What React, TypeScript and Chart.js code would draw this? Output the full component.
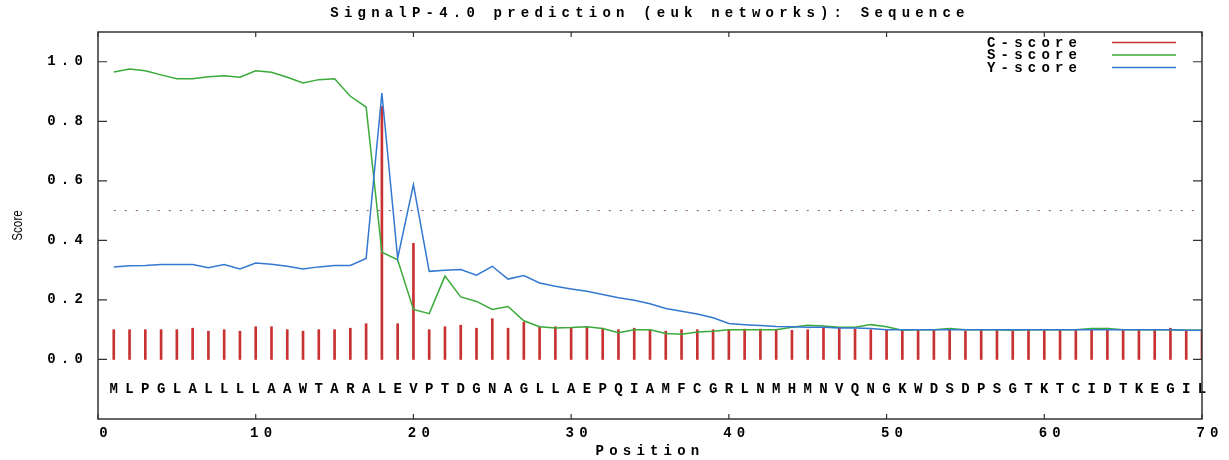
import React, { useEffect, useRef } from "react";
import { Chart, registerables } from "chart.js";

Chart.register(...registerables);

// ---------- data ----------
const chartTitle = "SignalP-4.0 prediction (euk networks): Sequence";
const xAxisTitle = "Position";
const yAxisTitle = "Score";
const sequence = "MLPGLALLLLAAWTARALEVPTDGNAGLLAEPQIAMFCGRLNMHMNVQNGKWDSDPSGTKTCIDTKEGIL";
const residues = sequence.split("");

const seriesLabels = ["C-score", "S-score", "Y-score"];

const cScore = [
  0.10, 0.10, 0.10, 0.10, 0.10, 0.105, 0.095, 0.10, 0.095, 0.11,
  0.11, 0.10, 0.095, 0.10, 0.10, 0.105, 0.12, 0.85, 0.12, 0.39,
  0.10, 0.11, 0.115, 0.105, 0.137, 0.105, 0.125, 0.11, 0.11, 0.105,
  0.11, 0.105, 0.10, 0.105, 0.10, 0.095, 0.10, 0.10, 0.10, 0.10,
  0.102, 0.102, 0.10, 0.098, 0.10, 0.108, 0.105, 0.102, 0.10, 0.10,
  0.10, 0.10, 0.10, 0.10, 0.095, 0.10, 0.10, 0.095, 0.10, 0.10,
  0.10, 0.10, 0.10, 0.105, 0.10, 0.10, 0.10, 0.105, 0.095, 0.10,
];

const sScore = [
  0.966, 0.976, 0.97, 0.956, 0.943, 0.943, 0.95, 0.953, 0.948, 0.97,
  0.965, 0.948, 0.929, 0.94, 0.943, 0.884, 0.848, 0.36, 0.335, 0.168,
  0.154, 0.28, 0.21, 0.195, 0.168, 0.178, 0.13, 0.11, 0.106, 0.107,
  0.11, 0.104, 0.09, 0.10, 0.10, 0.087, 0.085, 0.092, 0.095, 0.10,
  0.10, 0.10, 0.10, 0.108, 0.115, 0.112, 0.108, 0.108, 0.117, 0.11,
  0.098, 0.10, 0.10, 0.104, 0.10, 0.10, 0.10, 0.098, 0.10, 0.10,
  0.10, 0.10, 0.104, 0.104, 0.10, 0.10, 0.10, 0.10, 0.098, 0.098,
];

const yScore = [
  0.311, 0.315, 0.316, 0.319, 0.319, 0.319, 0.308, 0.319, 0.304, 0.324,
  0.32, 0.313, 0.304, 0.311, 0.316, 0.316, 0.339, 0.895, 0.34, 0.587,
  0.296, 0.30, 0.302, 0.283, 0.313, 0.27, 0.282, 0.257, 0.246, 0.237,
  0.229, 0.218, 0.207, 0.199, 0.187, 0.171, 0.162, 0.153, 0.14, 0.121,
  0.117, 0.114, 0.111, 0.11, 0.108, 0.108, 0.106, 0.106, 0.104, 0.10,
  0.10, 0.10, 0.10, 0.10, 0.10, 0.10, 0.10, 0.10, 0.10, 0.10,
  0.10, 0.10, 0.10, 0.10, 0.10, 0.10, 0.10, 0.10, 0.098, 0.098,
];

const thresholdValue = 0.5;
const residueRow = -0.1;

const xTickValues = [0, 10, 20, 30, 40, 50, 60, 70];
const xTickLabels = ["0", "10", "20", "30", "40", "50", "60", "70"];
const yTickValues = [0, 0.2, 0.4, 0.6, 0.8, 1.0];
const yTickLabels = ["0.0", "0.2", "0.4", "0.6", "0.8", "1.0"];

// ---------- styles ----------
const RED = "#c83232";
const GREEN = "#3aaa3a";
const BLUE = "#3478d0";
const DOTS = "#8a4a8a";
const FRAME = "#333333";
const MONO = "'Liberation Mono', 'DejaVu Sans Mono', monospace";
const FONT_SIZE = 14;
const SPACING = 5.2;

export default function App() {
  const ref = useRef<HTMLCanvasElement>(null);

  useEffect(() => {
    document.body.style.margin = "0";
    const canvas = ref.current;
    if (!canvas) return;

    const spacingPlugin = {
      id: "letterSpacing",
      beforeDraw(chart: any) {
        chart.ctx.letterSpacing = SPACING + "px";
      },
      afterDraw(chart: any) {
        chart.ctx.letterSpacing = "0px";
      },
    };

    const decorPlugin = {
      id: "decor",
      afterDatasetsDraw(chart: any) {
        const ctx = chart.ctx;
        const xs = chart.scales.x;
        const ys = chart.scales.y;
        const { left, right, top, bottom } = chart.chartArea;
        ctx.save();
        ctx.letterSpacing = "0px";
        // residue letters
        ctx.fillStyle = "#000";
        ctx.font = `bold ${FONT_SIZE}px ${MONO}`;
        ctx.textAlign = "center";
        ctx.textBaseline = "middle";
        const ry = ys.getPixelForValue(residueRow);
        residues.forEach((r, i) => {
          ctx.fillText(r, xs.getPixelForValue(i + 1), ry);
        });
        // frame
        ctx.strokeStyle = FRAME;
        ctx.lineWidth = 1.5;
        ctx.strokeRect(left, top, right - left, bottom - top);
        ctx.lineWidth = 1.2;
        ctx.beginPath();
        xs.ticks.forEach((t: any) => {
          const px = xs.getPixelForValue(t.value);
          ctx.moveTo(px, bottom);
          ctx.lineTo(px, bottom - 5);
          ctx.moveTo(px, top);
          ctx.lineTo(px, top + 5);
        });
        ys.ticks.forEach((t: any) => {
          const py = ys.getPixelForValue(t.value);
          ctx.moveTo(left, py);
          ctx.lineTo(left + 9, py);
          ctx.moveTo(right, py);
          ctx.lineTo(right - 9, py);
        });
        ctx.stroke();
        ctx.restore();
      },
      afterDraw(chart: any) {
        const ctx = chart.ctx;
        const ys = chart.scales.y;
        ctx.save();
        // y axis title
        ctx.letterSpacing = "0px";
        ctx.fillStyle = "#000";
        ctx.font = "15px 'Liberation Sans', Arial, sans-serif";
        ctx.textAlign = "center";
        ctx.textBaseline = "middle";
        ctx.translate(18, (ys.top + ys.bottom) / 2);
        ctx.rotate(-Math.PI / 2);
        ctx.scale(0.78, 1);
        ctx.fillText(yAxisTitle, 0, 0);
        ctx.restore();

        // legend
        ctx.save();
        ctx.letterSpacing = SPACING + "px";
        ctx.font = `bold ${FONT_SIZE}px ${MONO}`;
        ctx.textAlign = "left";
        ctx.textBaseline = "middle";
        const rows = [43, 55.5, 68];
        chart.data.datasets.slice(0, 3).forEach((ds: any, i: number) => {
          ctx.fillStyle = "#000";
          ctx.fillText(ds.label, 987, rows[i]);
          ctx.strokeStyle = ds.borderColor || ds.backgroundColor;
          ctx.lineWidth = 1.5;
          ctx.beginPath();
          ctx.moveTo(1112, rows[i] - 0.5);
          ctx.lineTo(1176, rows[i] - 0.5);
          ctx.stroke();
        });
        ctx.restore();
      },
    };

    const monoFont = { family: MONO, size: FONT_SIZE, weight: "bold" as const };

    const chart = new Chart(canvas, {
      type: "line",
      data: {
        datasets: [
          {
            type: "bar",
            label: seriesLabels[0],
            data: cScore.map((v, i) => ({ x: i + 1, y: v })),
            backgroundColor: RED,
            borderColor: RED,
            barThickness: 2,
            order: 3,
          } as any,
          {
            type: "line",
            label: seriesLabels[1],
            data: sScore.map((v, i) => ({ x: i + 1, y: v })),
            borderColor: GREEN,
            borderWidth: 1.5,
            pointRadius: 0,
            tension: 0,
            order: 2,
          },
          {
            type: "line",
            label: seriesLabels[2],
            data: yScore.map((v, i) => ({ x: i + 1, y: v })),
            borderColor: BLUE,
            borderWidth: 1.5,
            pointRadius: 0,
            tension: 0,
            order: 1,
          },
          {
            type: "line",
            label: "threshold",
            data: [
              { x: 1, y: thresholdValue },
              { x: residues.length, y: thresholdValue },
            ],
            borderColor: DOTS,
            borderWidth: 1,
            borderDash: [2, 9],
            pointRadius: 0,
            order: 4,
          },
        ],
      },
      options: {
        responsive: false,
        animation: false,
        devicePixelRatio: 1,
        layout: { padding: { top: 0, right: 27, bottom: 0, left: 0 } },
        plugins: {
          legend: { display: false },
          tooltip: { enabled: false },
          title: {
            display: true,
            text: chartTitle,
            fullSize: false,
            color: "#000",
            font: { ...monoFont, lineHeight: 1.2 },
            padding: { top: 4.6, bottom: 10.6 },
          },
        },
        scales: {
          x: {
            type: "linear",
            min: 0,
            max: 70,
            offset: false,
            afterBuildTicks: (s: any) => {
              s.ticks = xTickValues.map((v) => ({ value: v }));
            },
            afterFit: (s: any) => {
              s.height = 41;
            },
            ticks: {
              autoSkip: false,
              maxRotation: 0,
              padding: 6,
              labelOffset: 8,
              color: "#000",
              font: monoFont,
              callback: (_v: any, i: number) => xTickLabels[i],
            },
            grid: { display: false, drawTicks: false },
            border: { display: false },
            title: {
              display: true,
              text: xAxisTitle,
              color: "#000",
              font: { ...monoFont, lineHeight: 1.2 },
              padding: { top: 0, bottom: 0.6 },
            },
          },
          y: {
            type: "linear",
            min: -0.2,
            max: 1.1,
            afterBuildTicks: (s: any) => {
              s.ticks = yTickValues.map((v) => ({ value: v }));
            },
            afterFit: (s: any) => {
              s.width = 98;
            },
            ticks: {
              padding: 10,
              color: "#000",
              font: monoFont,
              callback: (_v: any, i: number) => yTickLabels[i],
            },
            grid: { display: false, drawTicks: false },
            border: { display: false },
          },
        },
      },
      plugins: [spacingPlugin, decorPlugin],
    } as any);

    return () => chart.destroy();
  }, []);

  return (
    <div style={{ position: "absolute", left: 0, top: 0, width: 1229, height: 460, background: "#fff" }}>
      <canvas ref={ref} width={1229} height={460} style={{ display: "block" }} />
    </div>
  );
}
